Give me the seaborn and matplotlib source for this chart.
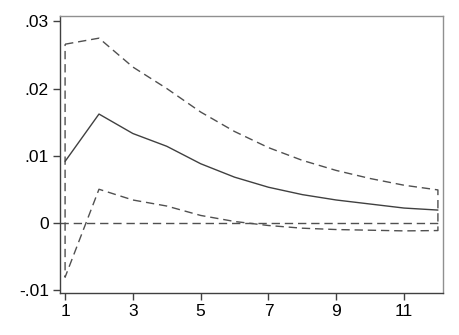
import numpy as np
import pandas as pd
import matplotlib
matplotlib.use("Agg")
import matplotlib.pyplot as plt
import seaborn as sns

steps = [1, 2, 3, 4, 5, 6, 7, 8, 9, 10, 11, 12]
irf = [0.00915, 0.0162, 0.0133, 0.0114, 0.0088, 0.0068, 0.0053, 0.0042, 0.0034, 0.0028, 0.0022, 0.0019]
upper = [0.0266, 0.0275, 0.0232, 0.0200, 0.0165, 0.0136, 0.0112, 0.0093, 0.0078, 0.0066, 0.0056, 0.0049]
lower = [-0.0081, 0.0050, 0.0034, 0.0025, 0.0011, 0.0002, -0.0004, -0.0008, -0.0010, -0.0011, -0.0012, -0.00115]
xticks = [1, 3, 5, 7, 9, 11]
yticks = [-0.01, 0, 0.01, 0.02, 0.03]
ytick_labels = ["-.01", "0", ".01", ".02", ".03"]

sns.set_style("white")
plt.rcParams['font.family'] = ['Liberation Sans', 'DejaVu Sans']

fig = plt.figure(figsize=(4.6, 3.35), dpi=100)
ax = fig.add_axes([60/460, 1 - 293/335, (443-60)/460, (293-16)/335])

band = pd.DataFrame({
    "x": steps + steps[::-1] + [steps[0]],
    "y": upper + lower[::-1] + [upper[0]],
})
sns.lineplot(data=band, x="x", y="y", sort=False, estimator=None, ax=ax,
             color="#505050", lw=1.0, linestyle=(0, (6, 3.5)))
sns.lineplot(x=steps, y=irf, ax=ax, color="#404040", lw=1.0)
ax.axhline(0, color="#505050", lw=1.0, linestyle=(0, (6, 3.5)), zorder=0)

ax.set_xlim(0.85, 12.15)
ax.set_ylim(-0.01045, 0.0308)
ax.set_xticks(xticks)
ax.set_xticklabels([str(t) for t in xticks])
ax.set_yticks(yticks)
ax.set_yticklabels(ytick_labels)
ax.set_xlabel("")
ax.set_ylabel("")
ax.tick_params(axis="both", which="both", direction="out", length=5, width=1,
               color="#404040", labelsize=12.5, labelcolor="black",
               bottom=True, left=True, pad=3)
for side, sp in ax.spines.items():
    sp.set_visible(True)
    sp.set_linewidth(1.0)
    sp.set_color("#404040" if side in ("left", "bottom") else "#909090")

fig.savefig("out.png", dpi=100)
